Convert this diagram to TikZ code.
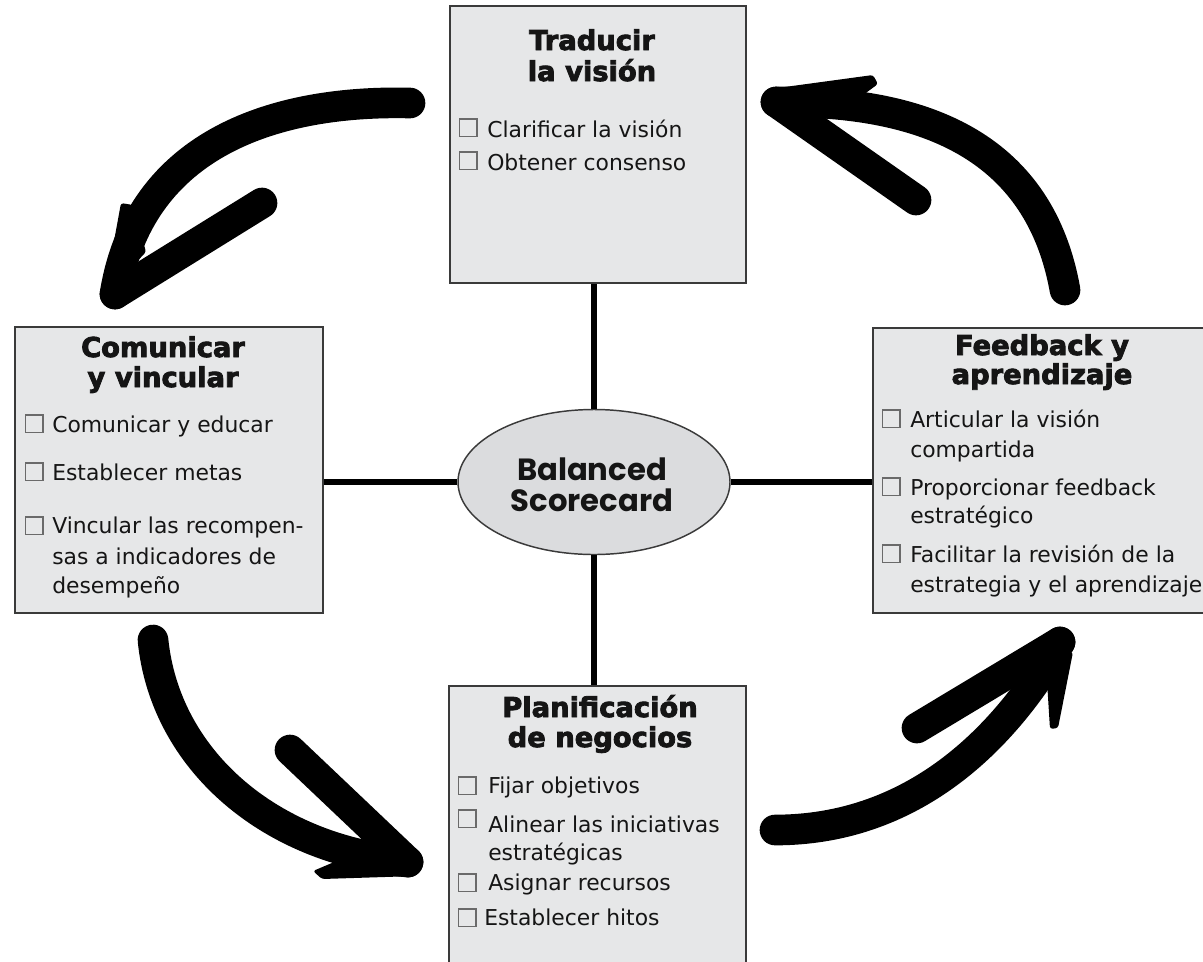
\documentclass[tikz,border=0pt]{standalone}
\usepackage{fontspec}
\usetikzlibrary{shapes.geometric}
\setmainfont{DejaVu Sans}
\newfontfamily\titlefont{DejaVu Sans}[BoldFeatures={FakeBold=3}]
\newfontfamily\bscfont{Poppins}
\definecolor{boxfill}{HTML}{E6E7E8}
\definecolor{ellfill}{HTML}{DBDCDE}
\definecolor{boxline}{HTML}{3A3A3A}
\definecolor{cbgray}{HTML}{6A6A6A}
\definecolor{ink}{HTML}{151515}
\tikzset{
  panel/.style={draw=boxline, line width=1.5pt, fill=boxfill, inner sep=0pt},
  ttl/.style={font=\titlefont\bfseries\fontsize{20.5}{21}\selectfont, anchor=base, inner sep=0pt, text=ink},
  itm/.style={font=\fontsize{16.4}{18}\selectfont, anchor=base west, inner sep=0pt, text=ink},
  cbox/.style={draw=cbgray, line width=1pt, minimum size=13pt, inner sep=0pt, anchor=south west},
  link/.style={line width=4.5pt},
  brush/.style={line width=23pt, line cap=round},
}
\newcommand\itx[4]{\node[itm] (#1) at (#2,#3) {#4};}
\newcommand\cbx[3]{\node[cbox] (#1) at (#2,#3) {};}
\begin{document}
\begin{tikzpicture}[x=0.75pt,y=-0.75pt]
\useasboundingbox (0,0) rectangle (1203,961);
\clip (0,0) rectangle (1203,961);

% panels
\node[panel, minimum width=222pt, minimum height=207.75pt] (tv) at (598,144.5) {};
\node[panel, minimum width=231pt, minimum height=214.5pt] (cv) at (169,470) {};
\node[panel, minimum width=256.5pt, minimum height=213.75pt] (fa) at (1044,470.5) {};
\node[panel, minimum width=222.75pt, minimum height=216.75pt] (pn) at (597.5,830.5) {};

% centre ellipse
\node[ellipse, draw=boxline, line width=1.1pt, fill=ellfill, minimum width=204pt, minimum height=108.75pt, inner sep=0pt] (bsc) at (594,482) {};
\node[font=\bscfont\bfseries\fontsize{23}{24}\selectfont, anchor=base, inner sep=0pt, text=ink] (bsc1) at (592,480) {Balanced};
\node[font=\bscfont\bfseries\fontsize{23}{24}\selectfont, anchor=base, inner sep=0pt, text=ink] (bsc2) at (592,511) {Scorecard};

% connectors
\draw[link] (bsc.north) -- (bsc.north |- tv.south);
\draw[link] (bsc.south) -- (bsc.south |- pn.north);
\draw[link] (bsc.west) -- (bsc.west -| cv.east);
\draw[link] (bsc.east) -- (bsc.east -| fa.west);

% top panel
\node[ttl] (tv1) at (592,50) {Traducir};
\node[ttl] (tv2) at (592,81) {la visión};
\cbx{c11}{459}{137}\itx{i11}{487}{137}{Clarificar la visión}
\cbx{c12}{459}{170}\itx{i12}{487}{170}{Obtener consenso}

% left panel
\node[ttl] (cv1) at (163,357) {Comunicar};
\node[ttl] (cv2) at (163,387) {y vincular};
\cbx{c21}{25}{433}\itx{i21}{52}{432}{Comunicar y educar}
\cbx{c22}{25}{481}\itx{i22}{52}{480}{Establecer metas}
\cbx{c23}{25}{535}\itx{i23}{52}{533}{Vincular las recompen-}
\itx{i24}{52}{564}{sas a indicadores de}
\itx{i25}{52}{593}{desempeño}

% right panel
\node[ttl] (fa1) at (1042,355) {Feedback y};
\node[ttl] (fa2) at (1042,384) {aprendizaje};
\cbx{c31}{882}{428}\itx{i31}{910}{427}{Articular la visión}
\itx{i32}{910}{457}{compartida}
\cbx{c33}{882}{496}\itx{i33}{910}{495}{Proporcionar feedback}
\itx{i34}{910}{523}{estratégico}
\cbx{c35}{882}{563}\itx{i35}{910}{562}{Facilitar la revisión de la}
\itx{i36}{910}{592}{estrategia y el aprendizaje}

% bottom panel
\node[ttl] (pn1) at (600,717) {Planificación};
\node[ttl] (pn2) at (600,747) {de negocios};
\cbx{c41}{458}{795}\itx{i41}{488}{793}{Fijar objetivos}
\cbx{c42}{458}{828}\itx{i42}{488}{832}{Alinear las iniciativas}
\itx{i43}{488}{860}{estratégicas}
\cbx{c44}{458}{892}\itx{i44}{488}{890}{Asignar recursos}
\cbx{c45}{458}{927}\itx{i45}{484}{925}{Establecer hitos}

% brush arrows
\coordinate (a1s) at (410,103); \coordinate (a1t) at (115,294); \coordinate (a1b) at (262,203);
\draw[brush] (a1s) .. controls (280,100) and (140,140) .. (a1t);
\draw[brush] (a1t) -- (a1b);
\fill[rounded corners=2pt] (121,203) -- (133,205) -- (146,252) -- (104,296) -- cycle;

\coordinate (a2s) at (1065,290); \coordinate (a2t) at (776,102); \coordinate (a2b) at (916,200);
\draw[brush] (a2s) .. controls (1040,150) and (930,100) .. (a2t);
\draw[brush] (a2t) -- (a2b);
\fill[rounded corners=2pt] (770,89) -- (873,75) -- (878,84) -- (848,106) -- (782,114) -- cycle;

\coordinate (a3s) at (153,640); \coordinate (a3t) at (408,862); \coordinate (a3b) at (290,750);
\draw[brush] (a3s) .. controls (165,760) and (270,850) .. (a3t);
\draw[brush] (a3t) -- (a3b);
\fill[rounded corners=2pt] (313,871) -- (346,857) -- (408,852) -- (416,876) -- (322,879) -- cycle;

\coordinate (a4s) at (775,830); \coordinate (a4t) at (1060,642); \coordinate (a4b) at (917,728);
\draw[brush] (a4s) .. controls (920,830) and (1010,730) .. (a4t);
\draw[brush] (a4t) -- (a4b);
\fill[rounded corners=2pt] (1046,665) -- (1073,652) -- (1058,728) -- (1050,729) -- cycle;
\end{tikzpicture}
\end{document}
